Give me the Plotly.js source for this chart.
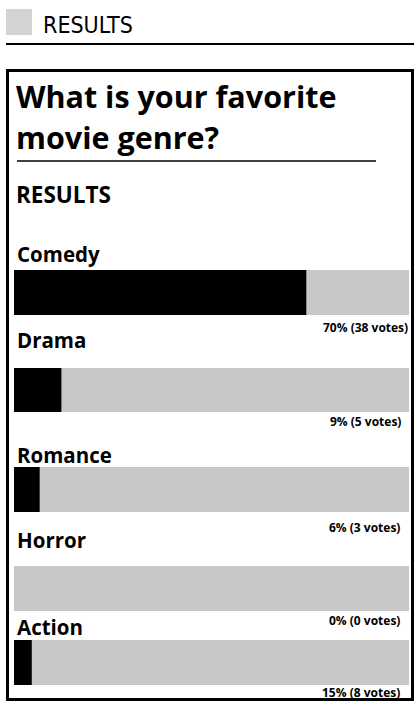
<!DOCTYPE html>
<html>
<head>
<meta charset="utf-8">
<script src="https://cdn.plot.ly/plotly-3.0.1.min.js"></script>
<style>html,body{margin:0;padding:0;background:#fff;}#chart{width:414px;height:703px;}</style>
</head>
<body>
<div id="chart"></div>
<script>
// ---- data ----
const genres = ['Comedy', 'Drama', 'Romance', 'Horror', 'Action'];
const percentLabels = [70, 9, 6, 0, 15];
const votes = [38, 5, 3, 0, 8];
// filled length of each bar as drawn in the poll (% of the grey track)
const barShown = [74, 12, 6.5, 0, 4.5];
const trackFull = [100, 100, 100, 100, 100];
const question = ['What is your favorite', 'movie genre?'];
const headerText = 'RESULTS';
const sectionText = 'RESULTS';

// ---- layout helpers (pixel -> paper) ----
const W = 414, H = 703;
const px = v => v / W;
const py = v => 1 - v / H;
const rowTop = [270, 368, 467, 566, 640];
const rowBottom = [315, 412, 512, 611, 685];
const nameY = [254, 340, 455, 540, 627];
const pctY = [327, 421, 527, 620, 692];
const pctRight = [410, 403, 402, 402, 402];

const traces = [];
const layout = {
  width: W, height: H,
  margin: {l: 0, r: 0, t: 0, b: 0},
  paper_bgcolor: '#ffffff', plot_bgcolor: 'rgba(0,0,0,0)',
  showlegend: false, barmode: 'overlay',
  font: {family: 'Open Sans, sans-serif', color: '#000'},
  xaxis: {domain: [px(14), px(409)], range: [0, 100], visible: false, fixedrange: true},
  shapes: [], annotations: []
};

genres.forEach((g, i) => {
  const yk = i === 0 ? 'y' : 'y' + (i + 1);
  const lk = i === 0 ? 'yaxis' : 'yaxis' + (i + 1);
  layout[lk] = {domain: [py(rowBottom[i]), py(rowTop[i])], visible: false, fixedrange: true,
    type: 'category', range: [-0.5, 0.5], anchor: 'x'};
  traces.push({type: 'bar', orientation: 'h', x: [trackFull[i]], y: [g], yaxis: yk, xaxis: 'x',
    width: 1, marker: {color: '#c8c8c8', line: {width: 0}}, hoverinfo: 'skip'});
  traces.push({type: 'bar', orientation: 'h', x: [barShown[i]], y: [g], yaxis: yk, xaxis: 'x',
    width: 1, marker: {color: '#000000', line: {width: 0}}, hoverinfo: 'skip'});
  layout.annotations.push({xref: 'paper', yref: 'paper', x: px(15), y: py(nameY[i]),
    xanchor: 'left', yanchor: 'middle', showarrow: false, text: '<b>' + g + '</b>',
    font: {size: 20.5, family: 'Open Sans, sans-serif', color: '#000'}});
  layout.annotations.push({xref: 'paper', yref: 'paper', x: px(pctRight[i]), y: py(pctY[i]),
    xanchor: 'right', yanchor: 'middle', showarrow: false,
    text: '<b>' + percentLabels[i] + '% (' + votes[i] + ' votes)</b>',
    font: {size: 12, family: 'Open Sans, sans-serif', color: '#000'}});
});

// header
layout.shapes.push({type: 'rect', xref: 'paper', yref: 'paper', x0: px(6), x1: px(32), y0: py(35), y1: py(9),
  fillcolor: '#d3d3d3', line: {width: 0}});
layout.shapes.push({type: 'line', xref: 'paper', yref: 'paper', x0: px(6), x1: px(414), y0: py(44), y1: py(44),
  line: {color: '#000', width: 2}});
layout.annotations.push({xref: 'paper', yref: 'paper', x: px(41), y: py(25), xanchor: 'left', yanchor: 'middle',
  showarrow: false, text: headerText,
  font: {size: 23, family: 'Liberation Sans Narrow, DejaVu Sans Condensed, sans-serif', color: '#000'}});
// box
layout.shapes.push({type: 'rect', xref: 'paper', yref: 'paper', x0: px(7.5), x1: px(412.5), y0: py(699.5), y1: py(70.5),
  fillcolor: 'rgba(0,0,0,0)', line: {color: '#000', width: 3}});
// question
layout.annotations.push({xref: 'paper', yref: 'paper', x: px(14), y: py(95.5), xanchor: 'left', yanchor: 'middle',
  showarrow: false, text: '<b>' + question[0] + '</b>', font: {size: 30.5, family: 'Open Sans, sans-serif', color: '#000'}});
layout.annotations.push({xref: 'paper', yref: 'paper', x: px(14), y: py(137), xanchor: 'left', yanchor: 'middle',
  showarrow: false, text: '<b>' + question[1] + '</b>', font: {size: 30.5, family: 'Open Sans, sans-serif', color: '#000'}});
layout.shapes.push({type: 'line', xref: 'paper', yref: 'paper', x0: px(17), x1: px(376), y0: py(161), y1: py(161),
  line: {color: '#000', width: 1.5}});
layout.annotations.push({xref: 'paper', yref: 'paper', x: px(14), y: py(194.5), xanchor: 'left', yanchor: 'middle',
  showarrow: false, text: '<b>' + sectionText + '</b>', font: {size: 22.5, family: 'Open Sans, sans-serif', color: '#000'}});

Plotly.newPlot('chart', traces, layout, {displayModeBar: false, staticPlot: true});
</script>
</body>
</html>
